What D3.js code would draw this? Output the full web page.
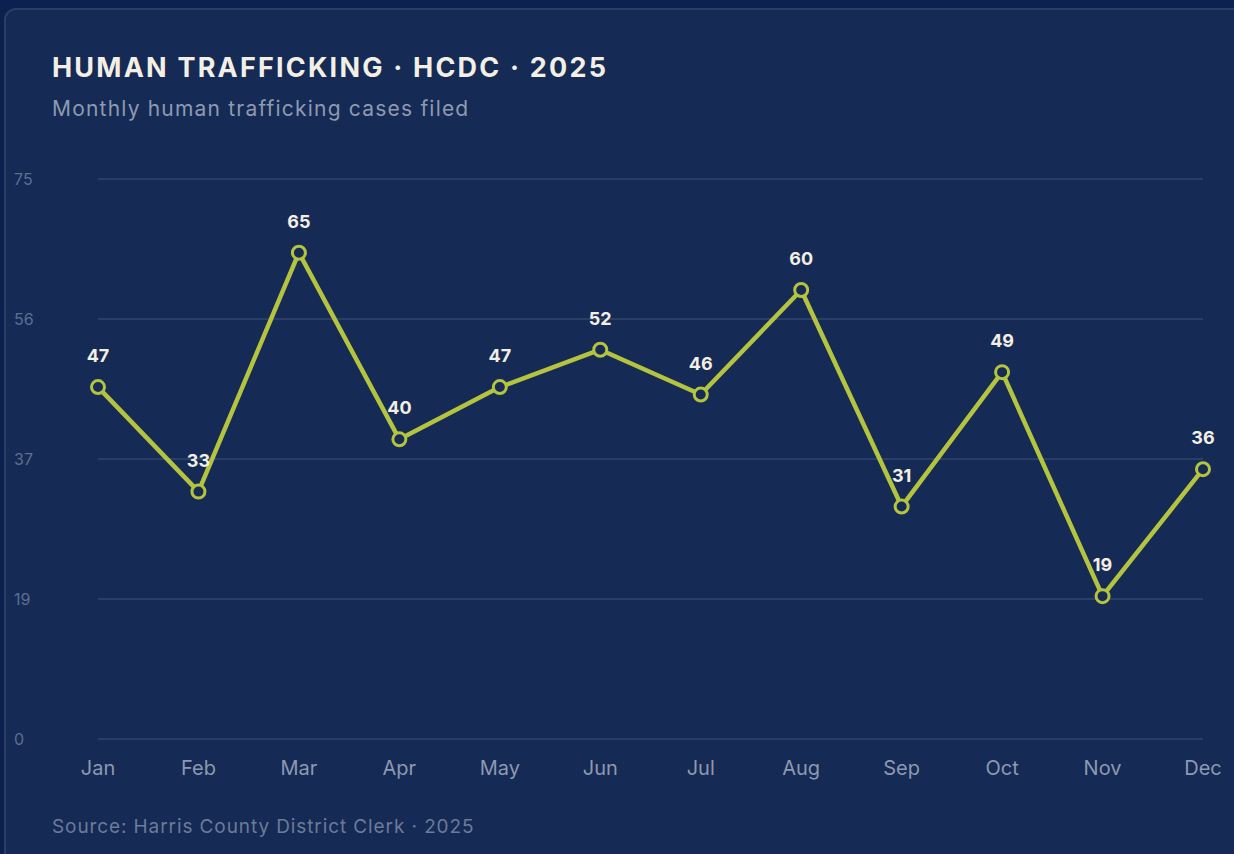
<!DOCTYPE html>
<html lang="en">
  <head>
    <meta charset="UTF-8" />
    <title>Human Trafficking HCDC 2025</title>
    <style>
      body {
        margin: 0;
        background: #0d2150;
        font-family: Inter, "Open Sans", sans-serif;
        overflow: hidden;
      }
      .card {
        position: absolute;
        left: 4px;
        top: 8px;
        width: 1260px;
        height: 880px;
        background: #152a54;
        border: 2px solid #2a3e66;
        border-radius: 12px;
        box-sizing: border-box;
      }
      svg {
        position: absolute;
        left: 0;
        top: 0;
      }
    </style>
    <script src="https://d3js.org/d3.v7.min.js"></script>
  </head>
  <body>
    <div class="card"></div>
  </body>
  <script>
    const months = ["Jan", "Feb", "Mar", "Apr", "May", "Jun", "Jul", "Aug", "Sep", "Oct", "Nov", "Dec"]
    const cases = [47, 33, 65, 40, 47, 52, 46, 60, 31, 49, 19, 36]
    const yTicks = [0, 18.75, 37.5, 56.25, 75]
    const yTickLabels = ["0", "19", "37", "56", "75"]

    const width = 1234, height = 854

    const svg = d3.select("body").append("svg")
        .attr("width", width)
        .attr("height", height)

    svg.append("text")
        .attr("x", 52).attr("y", 77)
        .attr("fill", "#f3efe4")
        .attr("font-size", "27px")
        .attr("font-weight", "bold")
        .attr("letter-spacing", "2.2px")
        .text("HUMAN TRAFFICKING · HCDC · 2025")

    svg.append("text")
        .attr("x", 52).attr("y", 116)
        .attr("fill", "#8e9ab2")
        .attr("font-size", "21px")
        .attr("letter-spacing", "1.2px")
        .text("Monthly human trafficking cases filed")

    const x = d3.scalePoint()
        .domain(months)
        .range([98, 1203])

    const y = d3.scaleLinear()
        .domain([0, 75])
        .range([738, 178])

    // grid + y labels
    svg.append("g").selectAll("line")
      .data(yTicks)
      .enter().append("line")
        .attr("x1", 98).attr("x2", 1203)
        .attr("y1", d => y(d) + 1).attr("y2", d => y(d) + 1)
        .attr("stroke", "#2a3f68")
        .attr("stroke-width", 2)

    svg.append("g").selectAll("text")
      .data(yTicks)
      .enter().append("text")
        .attr("x", 14)
        .attr("y", d => y(d) + 1)
        .attr("dy", "0.35em")
        .attr("fill", "#5d6f93")
        .attr("font-size", "16px")
        .text((d, i) => yTickLabels[i])

    svg.append("g").selectAll("text")
      .data(months)
      .enter().append("text")
        .attr("x", d => x(d))
        .attr("y", 775)
        .attr("text-anchor", "middle")
        .attr("fill", "#8d99b1")
        .attr("font-size", "20px")
        .text(d => d)

    svg.append("path")
        .datum(cases)
        .attr("fill", "none")
        .attr("stroke", "#b4c43e")
        .attr("stroke-width", 4.5)
        .attr("stroke-linejoin", "round")
        .attr("d", d3.line()
          .x((d, i) => x(months[i]))
          .y(d => y(d)))

    svg.append("g").selectAll("circle")
      .data(cases)
      .enter().append("circle")
        .attr("cx", (d, i) => x(months[i]))
        .attr("cy", d => y(d))
        .attr("r", 6.5)
        .attr("fill", "#152a54")
        .attr("stroke", "#b4c43e")
        .attr("stroke-width", 3)

    svg.append("g").selectAll("text")
      .data(cases)
      .enter().append("text")
        .attr("x", (d, i) => x(months[i]))
        .attr("y", d => y(d) - 25)
        .attr("text-anchor", "middle")
        .attr("fill", "#f3efe4")
        .attr("font-size", "18px")
        .attr("font-weight", "bold")
        .text(d => d)

    svg.append("text")
        .attr("x", 52).attr("y", 833)
        .attr("fill", "#6c7b9b")
        .attr("font-size", "19px")
        .attr("letter-spacing", "0.9px")
        .text("Source: Harris County District Clerk · 2025")
  </script>
</html>
